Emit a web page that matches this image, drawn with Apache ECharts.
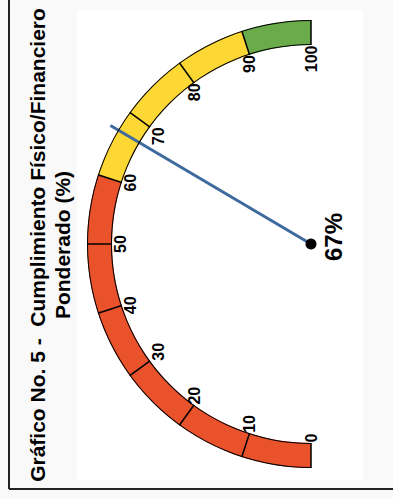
<!DOCTYPE html>
<html><head><meta charset="utf-8">
<script src="https://cdn.jsdelivr.net/npm/echarts@6/dist/echarts.min.js"></script>
<style>
html,body{margin:0;padding:0;width:393px;height:499px;overflow:hidden;background:#f9f9f9;}
#chart{position:absolute;left:0;top:0;width:499px;height:393px;transform-origin:0 0;transform:translateY(499px) rotate(-90deg);}
</style></head><body><div id="chart"></div>
<script>
const titleLines = ['Gráfico No. 5 -  Cumplimiento Físico/Financiero', 'Ponderado (%)'];
const gaugeValue = 67;
const axisMin = 0;
const axisMax = 100;
const splitCount = 10;
const bandStops = [0.6, 0.9, 1];
const bandColors = ['#E9522B', '#FDD835', '#6AAB4A'];

const FONT = "'Liberation Sans', Arial, sans-serif";
const chart = echarts.init(document.getElementById('chart'), null, {renderer: 'svg'});
const center = [255, 311];
const R = 224;
const W = 25;

const base = {
  type: 'gauge', center: center, startAngle: 180, endAngle: 0,
  min: axisMin, max: axisMax, splitNumber: splitCount, animation: false
};

chart.setOption({
  animation: false,
  backgroundColor: 'transparent',
  title: {
    text: titleLines.join('\n'), left: 249, top: 20, textAlign: 'center',
    textStyle: {fontFamily: FONT, fontSize: 21, fontWeight: 'bold', color: '#000', lineHeight: 25}
  },
  graphic: [
    {type: 'rect', shape: {x: 19, y: 77, width: 470, height: 286}, style: {fill: '#ffffff'}, z: -10},
    {type: 'line', shape: {x1: 10, y1: 9, x2: 499, y2: 9}, style: {stroke: '#222', lineWidth: 2}},
    {type: 'line', shape: {x1: 10, y1: 9, x2: 10, y2: 393}, style: {stroke: '#222', lineWidth: 2}}
  ],
  series: [
    Object.assign({}, base, {
      radius: R,
      axisLine: {lineStyle: {width: W, color: bandStops.map((s, i) => [s, bandColors[i]])}},
      axisTick: {show: false},
      splitLine: {show: true, distance: -W, length: W, lineStyle: {color: '#000', width: 1.5}},
      axisLabel: {show: true, distance: 25.5, color: '#000', fontFamily: FONT, fontSize: 16, fontWeight: 'bold'},
      pointer: {show: true, icon: 'rect', width: 3, length: '104%', offsetCenter: [0, 0], itemStyle: {color: '#3E6A9E'}},
      anchor: {show: true, size: 11, showAbove: true, itemStyle: {color: '#000'}},
      detail: {show: true, offsetCenter: [7, 22], formatter: '{value}%', color: '#000', fontFamily: FONT, fontSize: 24, fontWeight: 'bold'},
      title: {show: false},
      data: [{value: gaugeValue}]
    }),
    Object.assign({}, base, {
      radius: R, z: 3,
      axisLine: {lineStyle: {width: 1, color: [[1, '#000']]}},
      axisTick: {show: false}, splitLine: {show: false}, axisLabel: {show: false},
      pointer: {show: false}, anchor: {show: false}, detail: {show: false}, title: {show: false},
      data: []
    }),
    Object.assign({}, base, {
      radius: R - W + 1, z: 3,
      axisLine: {lineStyle: {width: 1, color: [[1, '#000']]}},
      axisTick: {show: false}, splitLine: {show: false}, axisLabel: {show: false},
      pointer: {show: false}, anchor: {show: false}, detail: {show: false}, title: {show: false},
      data: []
    })
  ]
});
</script></body></html>
